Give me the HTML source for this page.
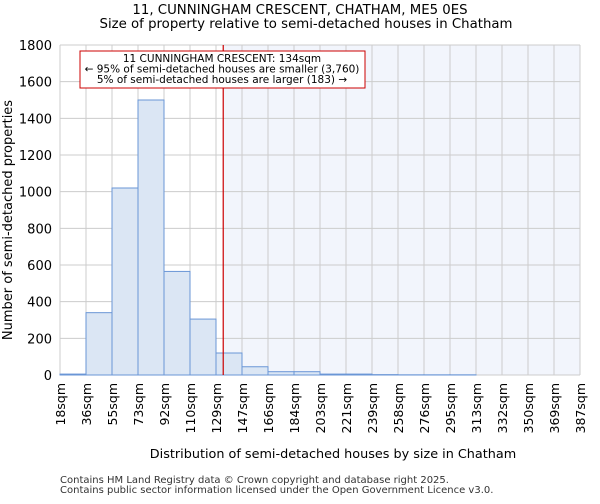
<!DOCTYPE html>
<html><head><meta charset="utf-8"><style>
body{margin:0;background:#fff;font-family:"DejaVu Sans","Liberation Sans",sans-serif}
</style></head><body>
<svg id="chart" width="600" height="500" xmlns="http://www.w3.org/2000/svg" font-family="DejaVu Sans, Liberation Sans, sans-serif">
<text x="300" y="14" text-anchor="middle" font-size="13.3">11, CUNNINGHAM CRESCENT, CHATHAM, ME5 0ES</text>
<text x="306" y="28" text-anchor="middle" font-size="13.3">Size of property relative to semi-detached houses in Chatham</text>
<g id="grid"></g><g id="bars"></g><g id="axes"></g>
<text transform="translate(12,220) rotate(-90)" text-anchor="middle" font-size="13">Number of semi-detached properties</text>
<text x="333" y="458" text-anchor="middle" font-size="12.8">Distribution of semi-detached houses by size in Chatham</text>
<text x="60" y="483" font-size="10" fill="#333">Contains HM Land Registry data © Crown copyright and database right 2025.</text>
<text x="60" y="493" font-size="10" fill="#333">Contains public sector information licensed under the Open Government Licence v3.0.</text>
</svg>
<script>
const categories=["18sqm","36sqm","55sqm","73sqm","92sqm","110sqm","129sqm","147sqm","166sqm","184sqm","203sqm","221sqm","239sqm","258sqm","276sqm","295sqm","313sqm","332sqm","350sqm","369sqm","387sqm"];
const binStarts=[18,36,55,73,92,110,129,147,166,184,203,221,239,258,276,295,313,332,350,369,387];
const counts=[5,340,1020,1500,565,305,120,45,18,18,5,5,2,1,1,1,0,0,0,0];
const yTicks=[0,200,400,600,800,1000,1200,1400,1600,1800];
const propertySize=134;
const annotationLines=["11 CUNNINGHAM CRESCENT: 134sqm","← 95% of semi-detached houses are smaller (3,760)","5% of semi-detached houses are larger (183) →"];
const L=60,R=580,T=45,B=375,yMax=1800;
const bw=(R-L)/counts.length;
const y=v=>B-v/yMax*(B-T);
const xIdx=i=>L+i*bw;
const xVal=v=>{for(let i=0;i<binStarts.length-1;i++){if(v<binStarts[i+1])return xIdx(i)+(v-binStarts[i])/(binStarts[i+1]-binStarts[i])*bw;}return R;};
const NS="http://www.w3.org/2000/svg";
function mk(p,t,a){const e=document.createElementNS(NS,t);for(const k in a)e.setAttribute(k,a[k]);document.getElementById(p).appendChild(e);return e;}
const px=xVal(propertySize);
let sh=mk("grid","rect",{x:px,y:T,width:R-px,height:B-T,fill:"#f2f5fc"});


yTicks.forEach(t=>{let g=mk("grid","line",{x1:L,x2:R,y1:y(t),y2:y(t),stroke:"#ccc","stroke-width":1});


let tx=mk("axes","text",{x:L-8,y:y(t)+5,"text-anchor":"end","font-size":13});tx.textContent=t;

});
categories.forEach((c,i)=>{let g=mk("grid","line",{x1:xIdx(i),x2:xIdx(i),y1:T,y2:B,stroke:"#ccc","stroke-width":1});


let tx=mk("axes","text",{transform:`translate(${xIdx(i)+5},${B+8}) rotate(-90)`,"text-anchor":"end","font-size":12.5});tx.textContent=c;

});
counts.forEach((v,i)=>{let r=mk("bars","rect",{x:xIdx(i),y:y(v),width:bw,height:B-y(v),fill:"#dbe6f4",stroke:"#6a96d6","stroke-width":1});

});
let ln=mk("axes","line",{x1:px,x2:px,y1:T,y2:B,stroke:"#c00","stroke-width":1.2});


let bx=mk("axes","rect",{x:80,y:51,width:285,height:37,fill:"#fff",stroke:"#c00","stroke-width":1});


annotationLines.forEach((s,i)=>{let t=mk("axes","text",{x:222,y:62+i*10.5,"text-anchor":"middle","font-size":10.5});t.textContent=s;

});
</script>
</body></html>
